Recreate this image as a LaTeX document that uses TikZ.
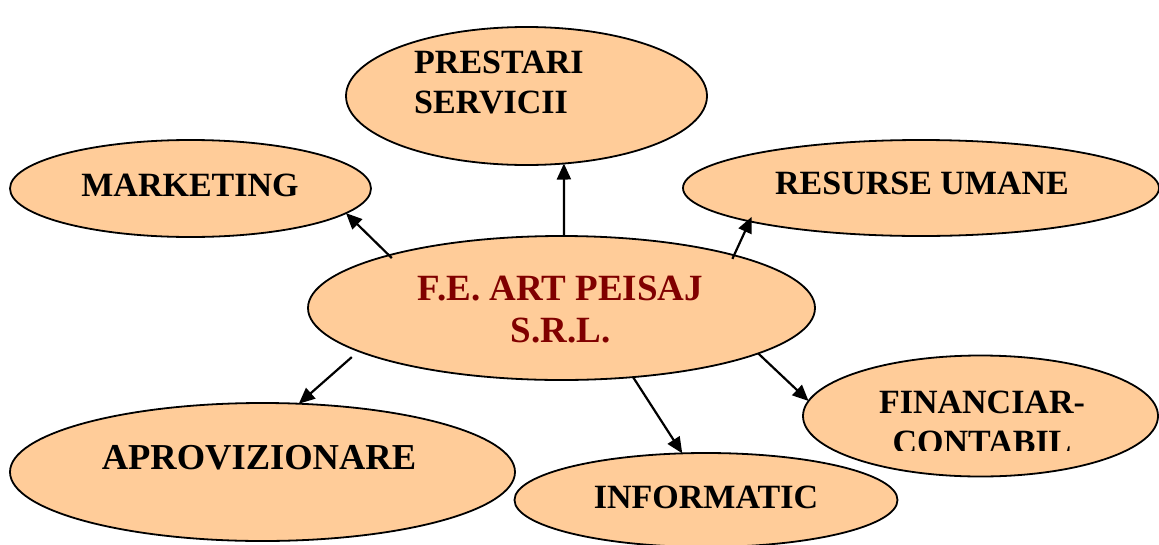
\documentclass[tikz,border=0pt]{standalone}
\usepackage{fontspec}
\setmainfont{Liberation Serif}
\usetikzlibrary{arrows.meta,shapes.geometric}
\definecolor{peach}{HTML}{FFCC99}
\definecolor{fered}{HTML}{800000}
\begin{document}
\begin{tikzpicture}[x=1pt,y=-1pt,
  oval/.style={ellipse,draw=black,line width=1.8pt,fill=peach,inner sep=0pt,outer sep=0pt},
  lbl/.style={font=\bfseries\fontsize{34}{40}\selectfont,inner sep=0pt,anchor=base},
  arr/.style={line width=2.2pt,-{Triangle[length=16pt,width=14pt]}}]
\useasboundingbox (0,0) rectangle (1159,544);
% ellipses
\node[oval,minimum width=361pt,minimum height=138pt] (pr) at (526.5,96) {};
\node[oval,minimum width=361pt,minimum height=97pt] (mk) at (190.5,188.5) {};
\node[oval,minimum width=476pt,minimum height=96pt] (ru) at (921,188) {};
\node[oval,minimum width=507pt,minimum height=144pt] (fe) at (561.5,308) {};
\node[oval,minimum width=505pt,minimum height=138pt] (ap) at (262.5,472) {};
\node[oval,minimum width=383pt,minimum height=94pt] (inf) at (706,500) {};
\node[oval,minimum width=355pt,minimum height=121pt] (fi) at (980.5,416) {};
% labels
\node[lbl,anchor=base west] (tpr) at (414,73) {\begin{tabular}[t]{@{}l@{}}PRESTARI\\SERVICII\end{tabular}};
\node[lbl] (tmk) at (190,196) {MARKETING};
\node[lbl] (tru) at (922,194) {RESURSE UMANE};
\node[lbl,text=fered,font=\bfseries\fontsize{37}{42}\selectfont] (tfe) at (560.5,300) {\begin{tabular}[t]{@{}c@{}}F.E. ART PEISAJ\\S.R.L.\end{tabular}};
\node[lbl,font=\bfseries\fontsize{36.5}{42}\selectfont] (tap) at (259,469) {APROVIZIONARE};
\node[lbl] (tinf) at (706,508) {INFORMATIC};
\begin{scope}
  \clip (800,340) rectangle (1159,450);
  \node[lbl] (tfi) at (982,413) {\begin{tabular}[t]{@{}c@{}}FINANCIAR-\\CONTABIL\end{tabular}};
\end{scope}
% connectors
\draw[arr,shorten <=-4pt] (fe.163) -- (mk.-9);
\draw[arr] (fe.88.8) -- (pr.-61.6);
\draw[arr,shorten <=-4pt,shorten >=-5pt] (fe.17) -- (ru.191);
\draw[arr,shorten <=9pt] (fe.-168.6) -- (ap.62.4);
\draw[arr] (fe.-44) -- (inf.117.2);
\draw[arr] (fe.-13.9) -- (fi.175.5);
\end{tikzpicture}
\end{document}
